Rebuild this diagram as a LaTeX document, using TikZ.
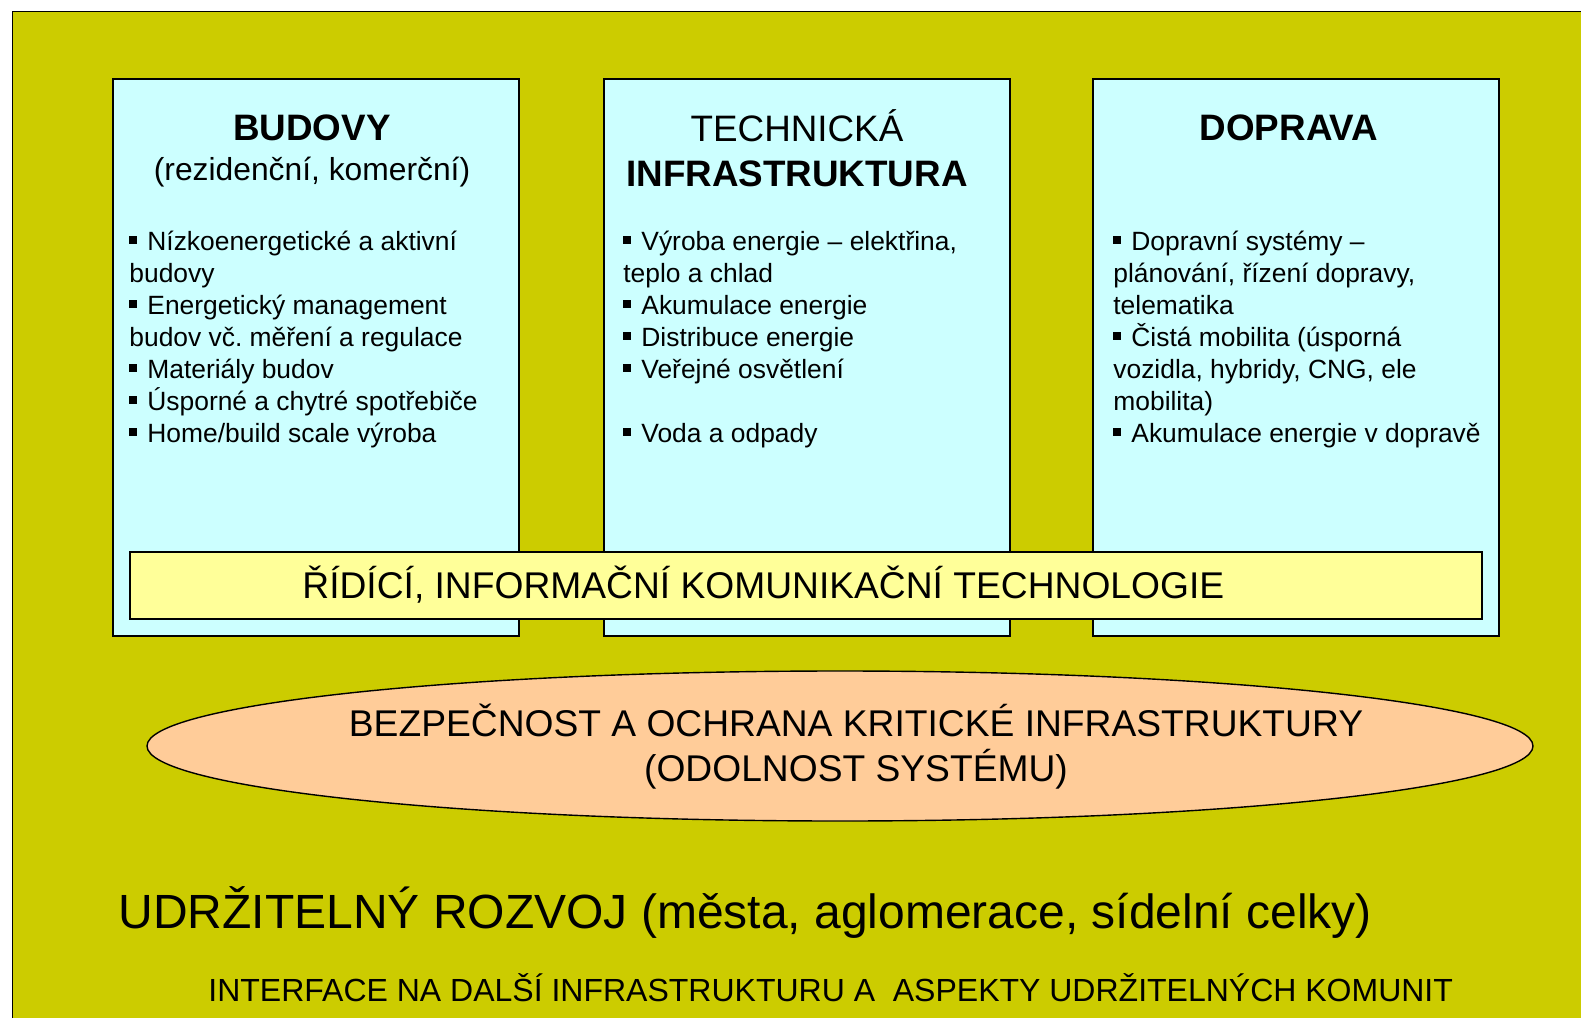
\documentclass[tikz,border=0pt]{standalone}
\usepackage{fontspec}
\setmainfont{Liberation Sans}
\usetikzlibrary{shapes.geometric}

\definecolor{olivebg}{RGB}{204,204,0}
\definecolor{boxcyan}{RGB}{204,255,255}
\definecolor{barylw}{RGB}{255,255,153}
\definecolor{ovalorg}{RGB}{255,204,153}
\newcommand{\itm}{\makebox[9pt][l]{\rule[3.1pt]{3.9pt}{3.9pt}}}
\frenchspacing

\begin{document}
\begin{tikzpicture}[x=0.5pt, y=-0.5pt,
    area/.style={draw, line width=1pt, fill=boxcyan, minimum width=203pt, minimum height=278.5pt, inner sep=0pt},
    head/.style={anchor=base, inner sep=0pt, font=\fontsize{18.4}{22}\selectfont},
    txt/.style={anchor=base west, inner sep=0pt, font=\fontsize{13.2}{16}\selectfont},
    big/.style={anchor=base, inner sep=0pt, font=\fontsize{18.6}{22}\selectfont}]
        \useasboundingbox (0,0) rectangle (1581,1018);
        \draw[fill=olivebg, line width=0.5pt] (12,11) rectangle (1600,1040);

        % three columns
        \node[area] (B1) at (316,357.5)  {};
        \node[area] (B2) at (806.5,357.5) {};
        \node[area] (B3) at (1295.5,357.5) {};

        \node[head] (T1)  at (312,140)  {\textbf{BUDOVY}};
        \node[head, font=\fontsize{15.9}{19}\selectfont] (T1b) at (312,180) {(rezidenční, komerční)};
        \node[head] (T2)  at (797,141)  {TECHNICKÁ};
        \node[head] (T2b) at (797,186)  {\textbf{INFRASTRUKTURA}};
        \node[head] (T3)  at (1289,140) {\textbf{DOPRAVA}};

        \foreach \t [count=\i] in {{\itm Nízkoenergetické a aktivní}, {budovy}, {\itm Energetický management},
            {budov vč. měření a regulace}, {\itm Materiály budov}, {\itm Úsporné a chytré spotřebiče},
            {\itm Home/build scale výroba}}
          \node[txt] (L1-\i) at (129,{218+32*\i}) {\t};
        \foreach \t [count=\i] in {{\itm Výroba energie – elektřina,}, {teplo a chlad}, {\itm Akumulace energie},
            {\itm Distribuce energie}, {\itm Veřejné osvětlení}, {}, {\itm Voda a odpady}}
          \node[txt] (L2-\i) at (623,{218+32*\i}) {\t};
        \foreach \t [count=\i] in {{\itm Dopravní systémy –}, {plánování, řízení dopravy,}, {telematika},
            {\itm Čistá mobilita (úsporná}, {vozidla, hybridy, CNG, ele}, {mobilita)},
            {\itm Akumulace energie v dopravě}}
          \node[txt] (L3-\i) at (1113,{218+32*\i}) {\t};

        % ICT bar across the columns
        \node[draw, line width=1pt, fill=barylw, minimum width=676pt, minimum height=33.5pt, inner sep=0pt] (ICT) at (806,585.5) {};
        \node[big, anchor=base west] (ICTt) at (302,598) {ŘÍDÍCÍ, INFORMAČNÍ KOMUNIKAČNÍ TECHNOLOGIE};

        % security oval
        \node[draw, ellipse, line width=0.7pt, fill=ovalorg, minimum width=693pt, minimum height=75pt, inner sep=0pt] (SEC) at (840,746) {};
        \node[big] (SECa) at (856,736) {BEZPEČNOST A OCHRANA KRITICKÉ INFRASTRUKTURY};
        \node[big] (SECb) at (856,781) {(ODOLNOST SYSTÉMU)};

        \node[anchor=base west, inner sep=0pt, font=\fontsize{24}{28}\selectfont] (UR) at (118,928) {UDRŽITELNÝ ROZVOJ (města, aglomerace, sídelní celky)};
        \node[anchor=base west, inner sep=0pt, font=\fontsize{16}{19}\selectfont] (IF) at (208,1001) {INTERFACE NA DALŠÍ INFRASTRUKTURU A\ \ ASPEKTY UDRŽITELNÝCH KOMUNIT};
      \end{tikzpicture}
\end{document}
